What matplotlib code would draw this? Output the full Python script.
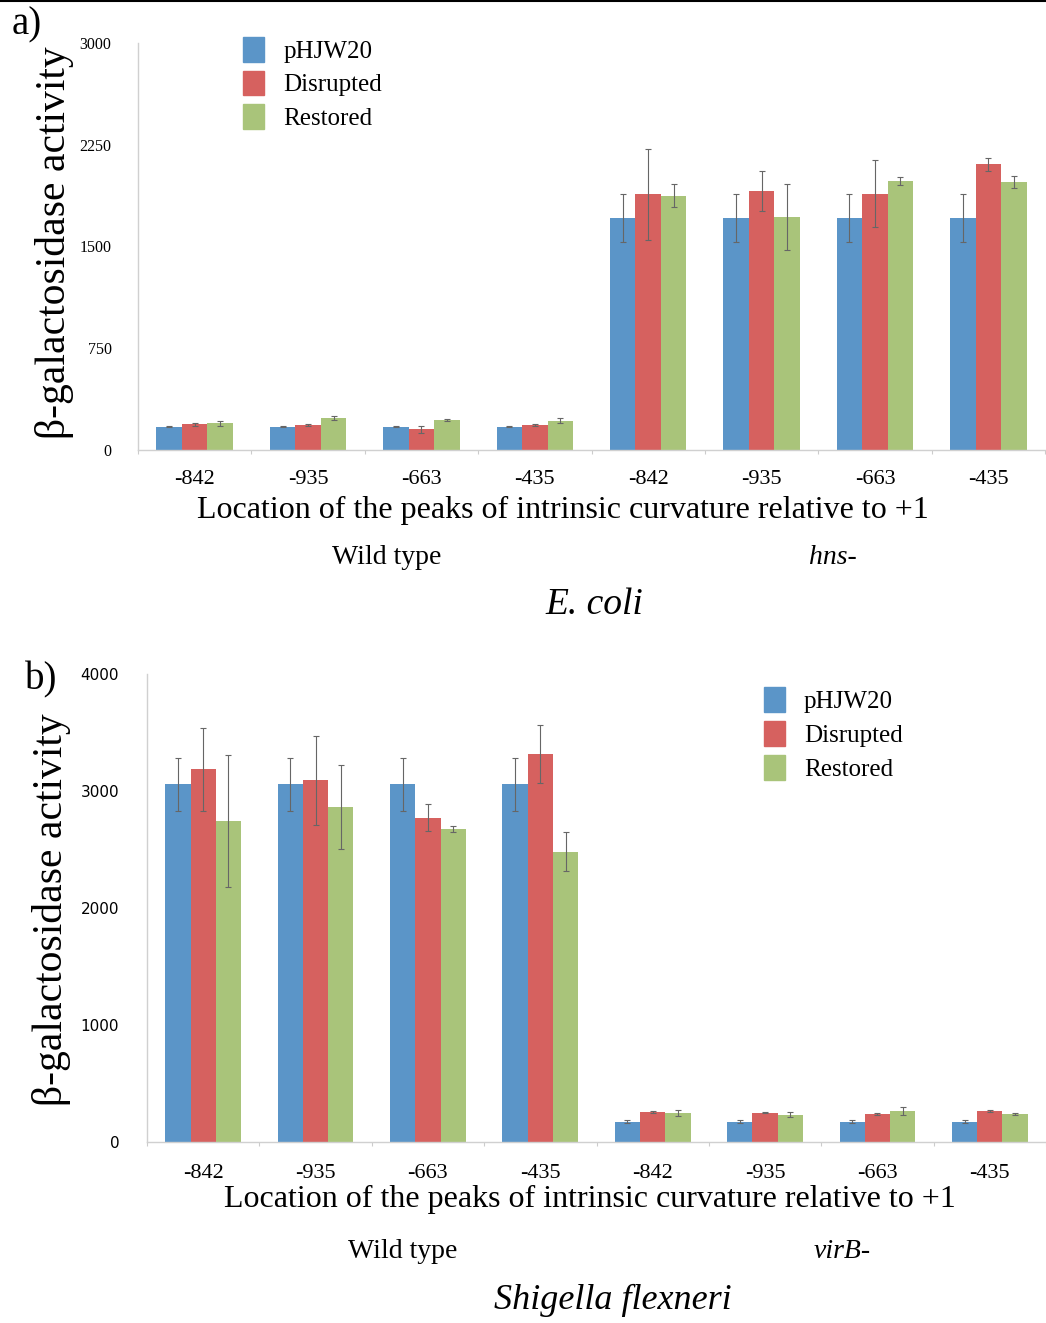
import matplotlib
matplotlib.use("Agg")
import matplotlib.pyplot as plt
import numpy as np
from matplotlib.lines import Line2D

# ---------------- data ----------------
locations = ["-842", "-935", "-663", "-435", "-842", "-935", "-663", "-435"]
series = ["pHJW20", "Disrupted", "Restored"]

ecoli_phjw20 = [172, 172, 172, 172, 1707, 1707, 1707, 1707]
ecoli_disrupted = [190, 184, 153, 182, 1884, 1908, 1889, 2105]
ecoli_restored = [197, 238, 223, 216, 1874, 1717, 1982, 1977]
ecoli_phjw20_err = [5, 5, 5, 5, 177, 177, 177, 177]
ecoli_disrupted_err = [10, 10, 25, 8, 335, 145, 248, 46]
ecoli_restored_err = [20, 15, 8, 20, 86, 242, 28, 44]

shig_phjw20 = [3057, 3057, 3057, 3057, 171, 171, 171, 171]
shig_disrupted = [3185, 3091, 2772, 3313, 250, 245, 234, 259]
shig_restored = [2744, 2863, 2672, 2479, 245, 231, 262, 234]
shig_phjw20_err = [228, 228, 228, 228, 10, 10, 10, 10]
shig_disrupted_err = [356, 380, 117, 248, 8, 5, 10, 8]
shig_restored_err = [563, 360, 28, 165, 28, 18, 36, 8]

colors = ["#5B95C8", "#D6615F", "#A9C47A"]

W, H = 1046, 1323
fig = plt.figure(figsize=(W / 100, H / 100), dpi=100)
SERIF = "Liberation Serif"


def px_axes(left, top, right, bottom):
    return fig.add_axes([left / W, 1 - bottom / H, (right - left) / W, (bottom - top) / H])


def draw_panel(ax, vals, errs, ymax, yticks, xmax, tickfont, tickpad, xpad):
    x = np.arange(len(locations))
    bw = 0.225
    for i, (v, e) in enumerate(zip(vals, errs)):
        ax.bar(x + (i - 1) * bw, v, bw, color=colors[i], label=series[i], zorder=2)
        ax.errorbar(x + (i - 1) * bw, v, yerr=e, fmt="none", ecolor="#666666",
                    elinewidth=0.8, capsize=2, capthick=0.8, zorder=3)
    ax.set_xlim(-0.5, xmax)
    ax.set_ylim(0, ymax)
    ax.set_yticks(yticks)
    ax.set_yticklabels([str(t) for t in yticks], fontdict=tickfont)
    ax.set_xticks(x)
    ax.set_xticklabels(locations, fontfamily=SERIF, fontsize=16)
    ax.set_xticks(np.arange(-0.5, len(locations), 1.0), minor=True)
    ax.tick_params(axis="x", which="major", length=0, pad=xpad)
    ax.tick_params(axis="x", which="minor", length=3, color="#cccccc", width=0.8)
    ax.tick_params(axis="y", length=0, pad=tickpad)
    for s in ["top", "right"]:
        ax.spines[s].set_visible(False)
    for s in ["left", "bottom"]:
        ax.spines[s].set_color("#d0d0d0")
        ax.spines[s].set_linewidth(1.0)
    leg_handles = [plt.Rectangle((0, 0), 1, 1, color=c) for c in colors]
    return leg_handles


LEG = dict(frameon=False, prop={"family": SERIF, "size": 18}, handlelength=0.85,
           handleheight=1.15, handletextpad=0.75, labelspacing=0.32, borderaxespad=0)

# -------- panel a --------
axa = px_axes(138, 43, 1045, 450)
h = draw_panel(axa, [ecoli_phjw20, ecoli_disrupted, ecoli_restored],
               [ecoli_phjw20_err, ecoli_disrupted_err, ecoli_restored_err],
               3000, [0, 750, 1500, 2250, 3000], 7.5,
               {"family": SERIF, "size": 11.5}, 19, 14.5)
axa.legend(h, series, loc="upper left", bbox_to_anchor=(0.105, 1.04), **LEG)
fig.text(55 / W, 1 - 243 / H, "β-galactosidase activity", rotation=90, ha="center", va="center",
         family=SERIF, fontsize=30)
fig.text(563 / W, 1 - 510 / H, "Location of the peaks of intrinsic curvature relative to +1",
         ha="center", va="center", family=SERIF, fontsize=23)
fig.text(387 / W, 1 - 557 / H, "Wild type", ha="center", va="center", family=SERIF, fontsize=20)
fig.text(833 / W, 1 - 557 / H, "hns-", ha="center", va="center", family=SERIF, fontsize=20,
         style="italic")
fig.text(594 / W, 1 - 605 / H, "E. coli", ha="center", va="center", family=SERIF, fontsize=27,
         style="italic")
fig.text(27 / W, 1 - 25 / H, "a)", ha="center", va="center", family=SERIF, fontsize=28)

# -------- panel b --------
axb = px_axes(147, 674, 1046, 1141.5)
h = draw_panel(axb, [shig_phjw20, shig_disrupted, shig_restored],
               [shig_phjw20_err, shig_disrupted_err, shig_restored_err],
               4000, [0, 1000, 2000, 3000, 4000], -0.5 + 899 / 113.9,
               {"family": "DejaVu Sans", "size": 11}, 20, 16)
axb.legend(h, series, loc="upper left", bbox_to_anchor=(0.675, 0.993), **LEG)
fig.text(52 / W, 1 - 910 / H, "β-galactosidase activity", rotation=90, ha="center", va="center",
         family=SERIF, fontsize=30)
fig.text(590 / W, 1 - 1199 / H, "Location of the peaks of intrinsic curvature relative to +1",
         ha="center", va="center", family=SERIF, fontsize=23)
fig.text(403 / W, 1 - 1252 / H, "Wild type", ha="center", va="center", family=SERIF, fontsize=20)
fig.text(842 / W, 1 - 1252 / H, "virB-", ha="center", va="center", family=SERIF, fontsize=20,
         style="italic")
fig.text(613 / W, 1 - 1300 / H, "Shigella flexneri", ha="center", va="center", family=SERIF,
         fontsize=26, style="italic")
fig.text(41 / W, 1 - 680 / H, "b)", ha="center", va="center", family=SERIF, fontsize=28)

fig.add_artist(Line2D([0, 1], [1 - 1 / H, 1 - 1 / H], color="black", lw=1.5,
                      transform=fig.transFigure))

fig.savefig("out.png", dpi=100)
